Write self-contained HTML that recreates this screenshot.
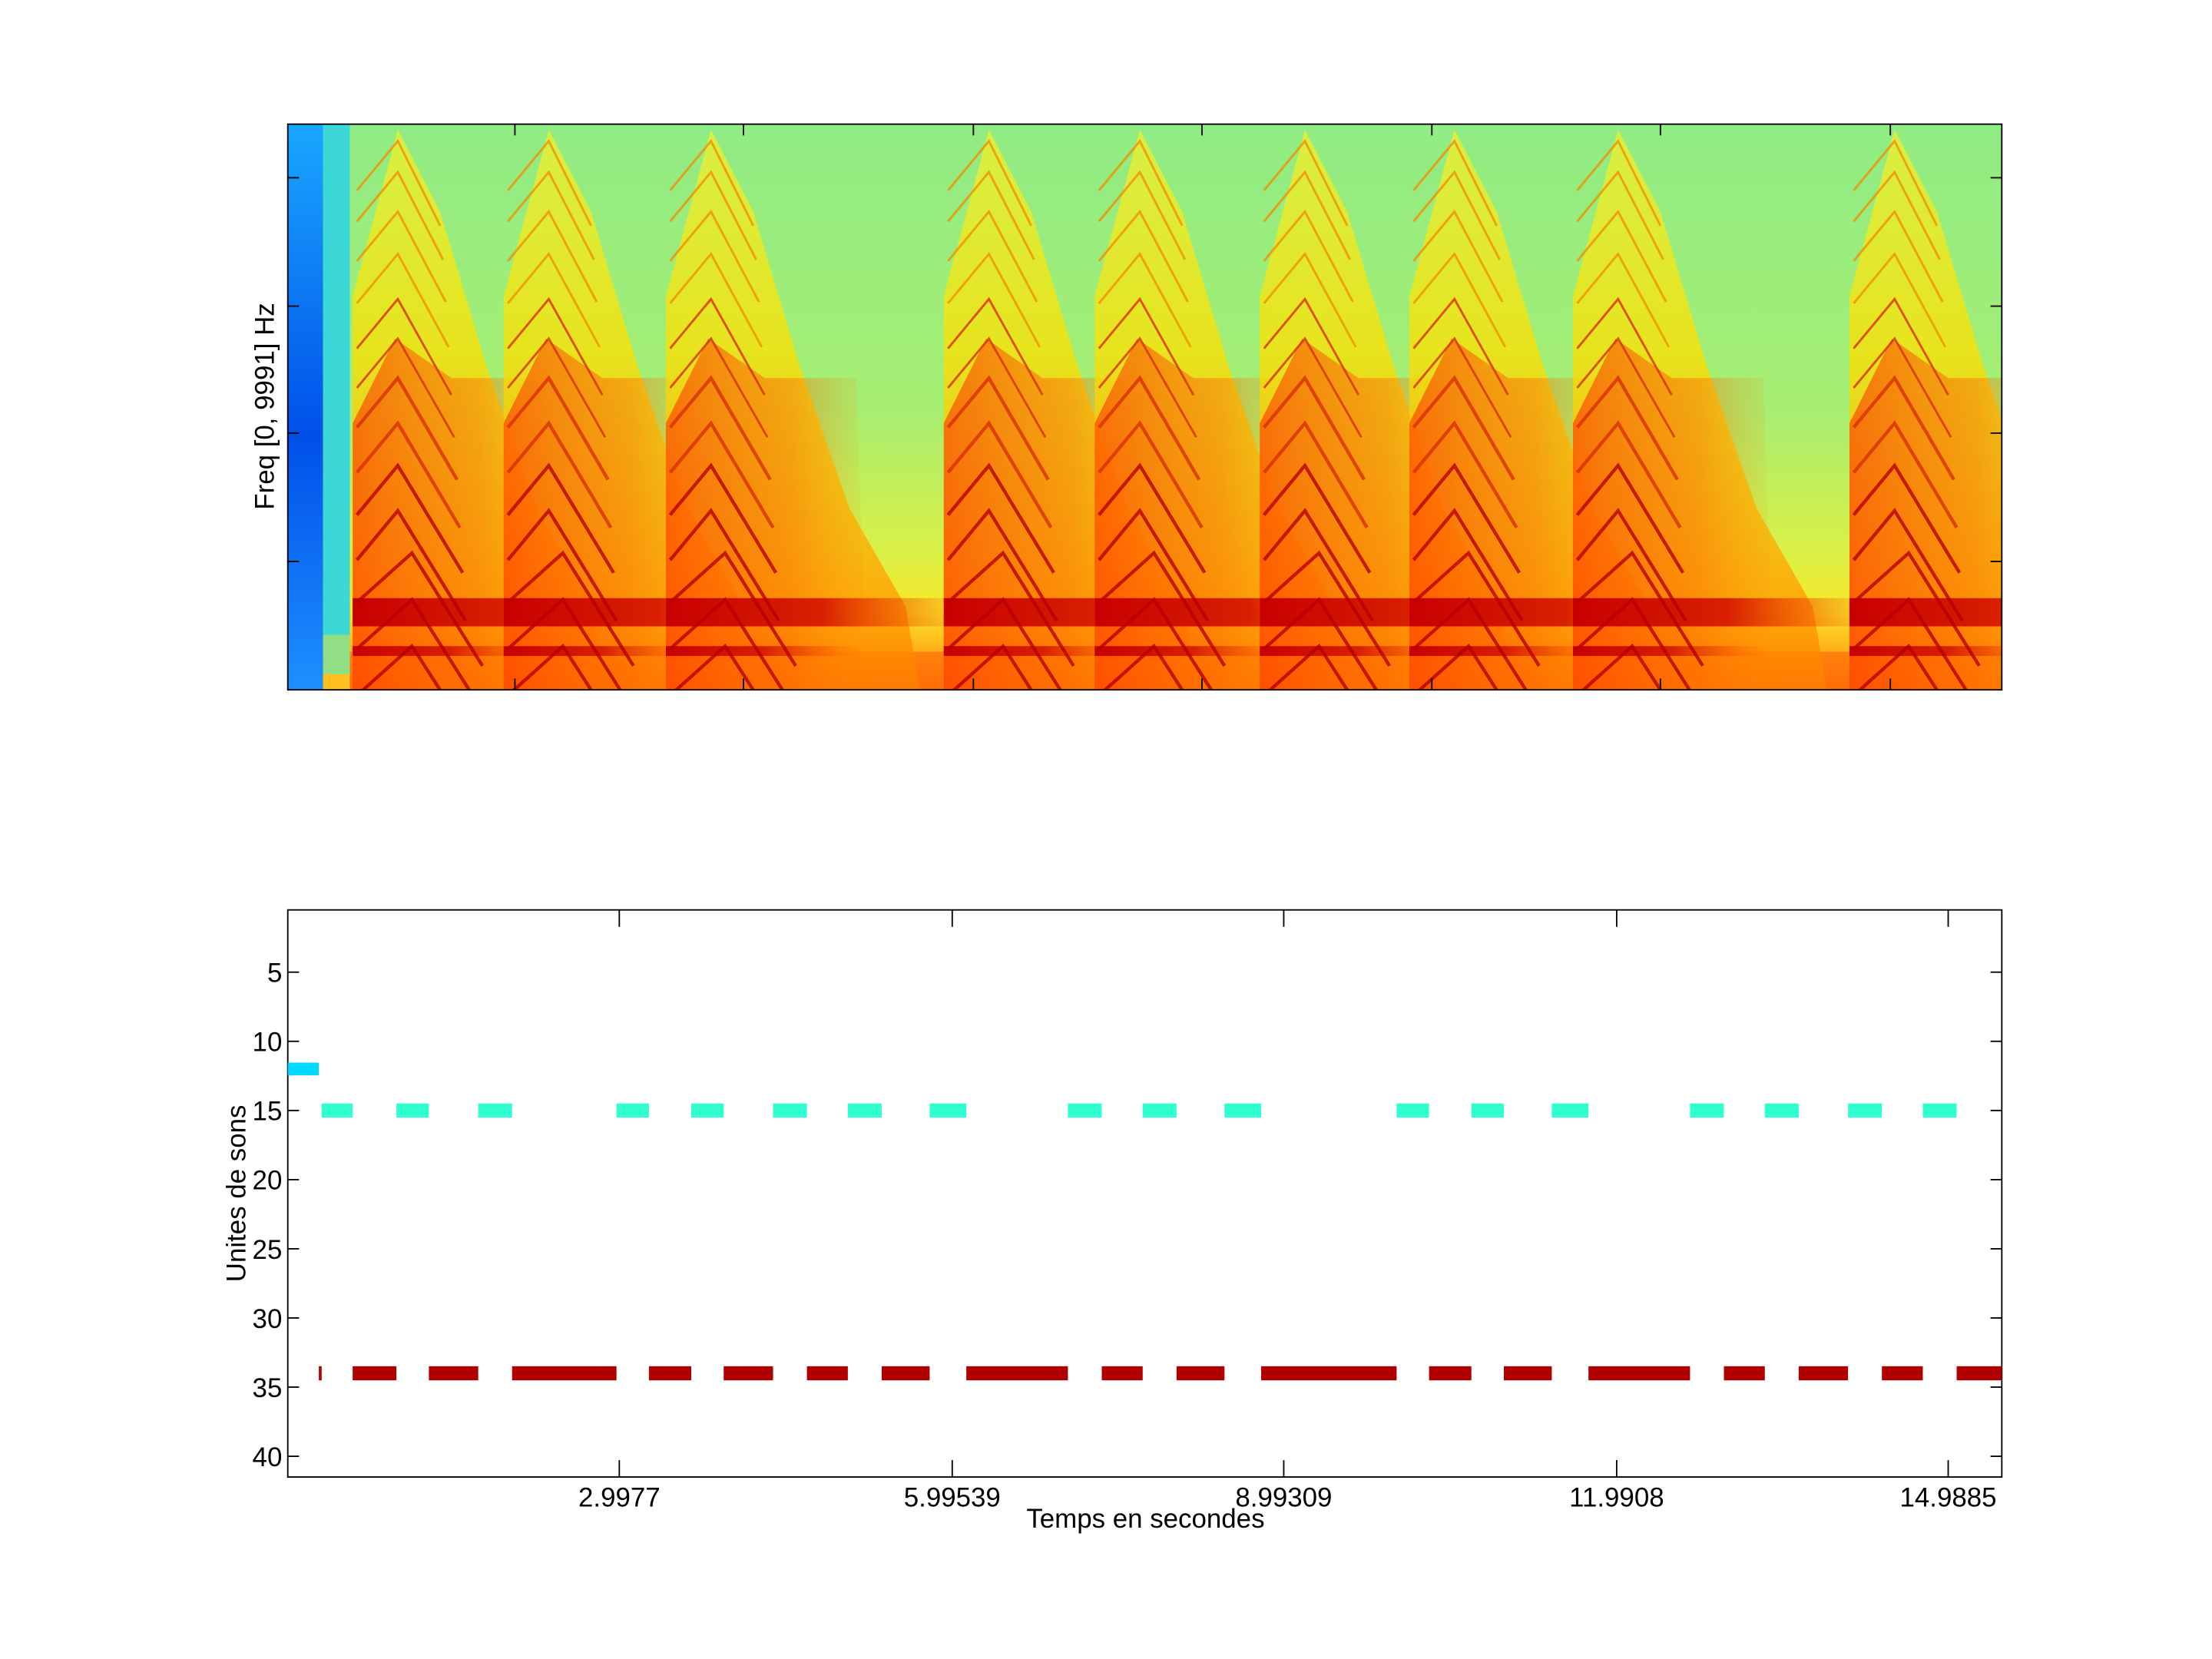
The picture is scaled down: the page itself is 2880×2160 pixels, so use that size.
<!DOCTYPE html>
<html><head><meta charset="utf-8"><style>
html,body{margin:0;padding:0;background:#fff;}
svg{display:block;}
text{font-family:"Liberation Sans",sans-serif;fill:#000;}
</style></head><body>
<svg id="s" width="2880" height="2160" viewBox="0 0 1568 1176" xmlns="http://www.w3.org/2000/svg">
<defs>
<linearGradient id="bg" x1="0" y1="88" x2="0" y2="489" gradientUnits="userSpaceOnUse">
<stop offset="0" stop-color="#90ec84"/>
<stop offset="0.5" stop-color="#a6ee72"/>
<stop offset="0.75" stop-color="#d8f048"/>
<stop offset="0.86" stop-color="#f8e828"/>
<stop offset="0.93" stop-color="#ffb018"/>
<stop offset="1" stop-color="#ff6000"/>
</linearGradient>
<linearGradient id="blue" x1="0" y1="88" x2="0" y2="489" gradientUnits="userSpaceOnUse">
<stop offset="0" stop-color="#1aa8ff"/>
<stop offset="0.55" stop-color="#0050e8"/>
<stop offset="1" stop-color="#1e90ff"/>
</linearGradient>
<linearGradient id="body" x1="0" y1="90" x2="0" y2="489" gradientUnits="userSpaceOnUse">
<stop offset="0" stop-color="#f0f030"/>
<stop offset="0.4" stop-color="#ffe000"/>
<stop offset="0.7" stop-color="#ffb000"/>
<stop offset="1" stop-color="#ff8000"/>
</linearGradient>
<linearGradient id="band" x1="0" x2="1">
<stop offset="0" stop-color="#c80000"/>
<stop offset="0.5" stop-color="#d82000"/>
<stop offset="1" stop-color="#ff6000" stop-opacity="0"/>
</linearGradient>
<linearGradient id="orb" x1="0" x2="1">
<stop offset="0" stop-color="#ff3000" stop-opacity="0.6"/>
<stop offset="0.6" stop-color="#ff6000" stop-opacity="0.4"/>
<stop offset="1" stop-color="#ff9000" stop-opacity="0"/>
</linearGradient>
<clipPath id="c1"><rect x="204" y="88" width="1215" height="401"/></clipPath>
</defs>
<g clip-path="url(#c1)">
<rect x="204" y="88" width="1215" height="401" fill="url(#bg)"/>
<rect x="204" y="88" width="25" height="401" fill="url(#blue)"/>
<rect x="229" y="88" width="19" height="401" fill="#3cd8d8"/>
<rect x="229" y="450" width="19" height="39" fill="#a8e070" opacity="0.8"/>
<rect x="229" y="478" width="19" height="11" fill="#ffc020"/>
<rect x="248" y="462" width="1171" height="27" fill="#ff7008" opacity="0.7"/>
<g id="syl"></g>
</g>
<rect x="204" y="88" width="1215" height="401" fill="none" stroke="#000" stroke-width="1"/>
<g id="t1" stroke="#000" stroke-width="1"></g>
<text transform="translate(194,288) rotate(-90)" font-size="19" text-anchor="middle">Freq [0, 9991] Hz</text>

<rect x="204" y="645" width="1215" height="402" fill="none" stroke="#000" stroke-width="1"/>
<g id="bars"></g>
<g id="t2" stroke="#000" stroke-width="1"></g>
<g id="lab2" font-size="19"></g>
<text transform="translate(174,846) rotate(-90)" font-size="19" text-anchor="middle">Unites de sons</text>
<text x="812" y="1083" font-size="19" text-anchor="middle">Temps en secondes</text>
</svg>
<script>
var NS="http://www.w3.org/2000/svg";
function el(p,t,a){var e=document.createElementNS(NS,t);for(var k in a)e.setAttribute(k,a[k]);p.appendChild(e);return e;}
var syl=document.getElementById('syl');
var starts=[250,357,472,669,776,893,999,1115,1311];
starts.forEach(function(x0){
  el(syl,'polygon',{points:[x0,489,x0,210,x0+32,92,x0+62,150,x0+95,260,x0+130,360,x0+170,430,x0+180,489].join(' '),fill:"url(#body)",opacity:0.75});
  el(syl,'polygon',{points:[x0,489,x0,300,x0+30,240,x0+70,268,x0+135,268,x0+140,420,x0+150,489].join(' '),fill:"url(#orb)"});
  el(syl,'rect',{x:x0,y:424,width:220,height:20,fill:"url(#band)"});
  el(syl,'rect',{x:x0,y:458,width:140,height:7,fill:"url(#band)"});
  var apex=[100,122,150,180,212,240,268,300,330,362,392,425,458];
  apex.forEach(function(ay,k){
    var w=k<6?1.6:2.4;
    var col=k<4?"#f09000":(k<8?"#d83000":"#b80000");
    var ax=x0+32+(k>9?10:0);
    el(syl,'polyline',{points:[x0+3,ay+35,ax,ay,ax+30+k*2,ay+60+k*2].join(' '),fill:"none",stroke:col,"stroke-width":w,opacity:0.8});
  });
});
var t1=document.getElementById('t1');
[365,527,690,852,1015,1177,1340].forEach(function(x){
  el(t1,'line',{x1:x,y1:88,x2:x,y2:96});el(t1,'line',{x1:x,y1:489,x2:x,y2:481});
});
[126,217,307,398].forEach(function(y){
  el(t1,'line',{x1:204,y1:y,x2:212,y2:y});el(t1,'line',{x1:1419,y1:y,x2:1411,y2:y});
});
function Y(v){return 645+(v-0.5)*9.805;}
var bars=document.getElementById('bars');
el(bars,'rect',{x:204,y:Y(12)-4.5,width:22,height:9,fill:"#00d8ff"});
var aq=[[228,250],[281,304],[339,363],[437,460],[490,513],[548,572],[601,625],[659,685],[757,781],[810,834],[868,894],[990,1013],[1043,1066],[1100,1126],[1198,1222],[1251,1275],[1310,1334],[1363,1387]];
aq.forEach(function(a){el(bars,'rect',{x:a[0],y:Y(15)-5,width:a[1]-a[0],height:10,fill:"#30ffd0"});});
var rd=[[226,228],[250,281],[304,339],[363,437],[460,490],[513,548],[572,601],[625,659],[685,757],[781,810],[834,868],[894,990],[1013,1043],[1066,1100],[1126,1198],[1222,1251],[1275,1310],[1334,1363],[1387,1419]];
rd.forEach(function(a){el(bars,'rect',{x:a[0],y:Y(34)-5,width:a[1]-a[0],height:10,fill:"#b00000"});});
var t2=document.getElementById('t2'),lab=document.getElementById('lab2');
[5,10,15,20,25,30,35,40].forEach(function(v){
  var y=Y(v);
  el(t2,'line',{x1:204,y1:y,x2:212,y2:y});el(t2,'line',{x1:1419,y1:y,x2:1411,y2:y});
  var t=el(lab,'text',{x:200,y:y+7,"text-anchor":"end"});t.textContent=v;
});
[[439,"2.9977"],[675,"5.99539"],[910,"8.99309"],[1146,"11.9908"],[1381,"14.9885"]].forEach(function(a){
  el(t2,'line',{x1:a[0],y1:645,x2:a[0],y2:657});el(t2,'line',{x1:a[0],y1:1047,x2:a[0],y2:1035});
  var t=el(lab,'text',{x:a[0],y:1068,"text-anchor":"middle"});t.textContent=a[1];
});
</script>
</body></html>
